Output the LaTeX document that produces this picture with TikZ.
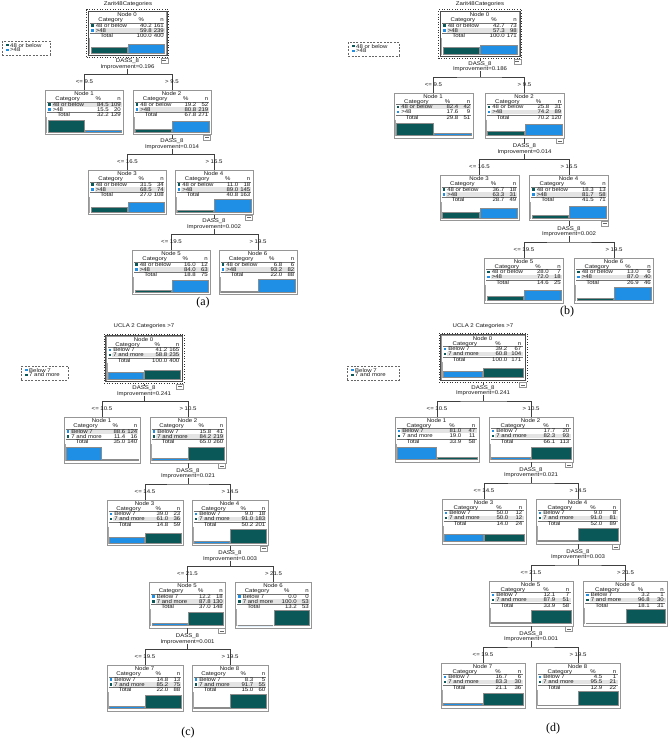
\documentclass[tikz,border=0pt]{standalone}
\usepackage{fontspec}
\usetikzlibrary{positioning, fit}
\newfontfamily\spssfont[FakeStretch=1.12]{Liberation Sans}
\newfontfamily\capfont{Liberation Serif}
\definecolor{spssteal}{RGB}{10,88,88}
\definecolor{spssblue}{RGB}{30,143,228}
\definecolor{boxgray}{RGB}{150,150,150}
\definecolor{rowgray}{RGB}{228,228,228}

% one tree node: name, position (top centre), number, p1, n1, p2, n2, total %, total n
\newcommand{\treenode}[9]{%
  \node[nodebox, minimum width=\nodeW pt, minimum height=\nodeH pt] (#1) at (#2) {};
  \begin{scope}[shift={(#1.north west)}]
    \ifdim #4pt>#6pt
      \fill[rowgray] (6.5,12.3) rectangle ({\nodeW-1.5},16.7);
    \else
      \fill[rowgray] (6.5,17.3) rectangle ({\nodeW-1.5},21.7);
    \fi
    \node[txt] (#1-hd) at ({\nodeW/2},4) {Node #3};
    \node[txt] (#1-cat) at ({0.29*\nodeW},9) {Category};
    \node[txt, anchor=east] (#1-pc) at ({0.72*\nodeW},9) {\%};
    \node[txt, anchor=east] (#1-nc) at (\nX,9) {n};
    \draw[rule] (2,11.8) -- ({\nodeW-2},11.8);
    \fill[colA] (3,13.2) rectangle (5.8,15.8);
    \node[txt, anchor=west] (#1-c1) at (7.5,14.5) {\catA};
    \node[txt, anchor=east] (#1-p1) at (\pctX,14.5) {#4};
    \node[txt, anchor=east] (#1-n1) at (\nX,14.5) {#5};
    \fill[colB] (3,18.2) rectangle (5.8,20.8);
    \node[txt, anchor=west] (#1-c2) at (7.5,19.5) {\catB};
    \node[txt, anchor=east] (#1-p2) at (\pctX,19.5) {#6};
    \node[txt, anchor=east] (#1-n2) at (\nX,19.5) {#7};
    \draw[rule] (2,22.2) -- ({\nodeW-2},22.2);
    \node[txt, anchor=west] (#1-tl) at (12,24.7) {Total};
    \node[txt, anchor=east] (#1-pt) at (\pctX,24.7) {#8};
    \node[txt, anchor=east] (#1-nt) at (\nX,24.7) {#9};
    \pgfmathsetmacro\barhA{#4*(\nodeH-30)/100}
    \pgfmathsetmacro\barhB{#6*(\nodeH-30)/100}
    \draw[axisln] (1.6,27) -- (1.6,{\nodeH-1.5});
    \filldraw[bar, fill=colA] (2.6,{\nodeH-2}) rectangle ({\nodeW/2},{\nodeH-2-\barhA});
    \filldraw[bar, fill=colB] ({\nodeW/2+0.8},{\nodeH-2}) rectangle ({\nodeW-1.8},{\nodeH-2-\barhB});
  \end{scope}}

% selected root
\newcommand{\selnode}[1]{%
  \node[draw=black!70, line width=0.9pt, inner sep=0pt, fit=(#1)] (#1i) {};
  \node[selbox, fit=(#1)] (#1s) {};}

% split: parent, name, improvement, left child, right child, left rule, right rule
\newcommand{\splitnode}[7]{%
  \coordinate[yshift=15.5pt] (#2j) at (#1.south |- #4.north);
  \node[txt] (#2d) at ([yshift=13.5pt]#2j) {DASS\_8};
  \node[txt] (#2i) at ([yshift=8pt]#2j) {Improvement=#3};
  \node[minusbox, anchor=north east] (#2m) at ([xshift=-0.5pt]#1.south east) {};
  \draw[edge] (#1.south) -- (#2d.north);
  \draw[edge] (#2i.south) -- (#2j);
  \draw[edge] (#4.north) |- (#2j) -| (#5.north);
  \node[txt] (#2l) at ([yshift=8pt]#4.north) {#6};
  \node[txt] (#2r) at ([yshift=8pt]#5.north) {#7};}

% legend: name, top left, width
\newcommand{\legendbox}[3]{%
  \node[legendframe, minimum width=#3pt, anchor=north west] (#1) at (#2) {};
  \begin{scope}[shift={(#1.north west)}]
    \fill[colA] (4,3) rectangle (6.6,5.4);
    \node[txt, anchor=west] (#1-a) at (8,4.2) {\catA};
    \fill[colB] (4,7.8) rectangle (6.6,10.2);
    \node[txt, anchor=west] (#1-b) at (8,9) {\catB};
  \end{scope}}

\begin{document}
\begin{tikzpicture}[x=1pt, y=-1pt,
    txt/.style={font=\spssfont\fontsize{5.4}{5.5}\selectfont, text=black!90,
                inner sep=0pt, text height=3.8pt, text depth=0pt},
    nodebox/.style={rectangle, draw=boxgray, line width=0.9pt, fill=white,
                    inner sep=0pt, anchor=north},
    selbox/.style={draw=black!80, dotted, line width=0.6pt, inner sep=1.4pt},
    rule/.style={draw=black!55, line width=0.35pt},
    axisln/.style={draw=gray!70, line width=0.6pt},
    bar/.style={draw=black!45, line width=0.3pt},
    minusbox/.style={rectangle, draw=boxgray, fill=white, line width=0.5pt,
                     minimum width=7pt, minimum height=5pt, inner sep=0pt,
                     path picture={\draw[black!60, line width=0.4pt]
                       ([xshift=1.5pt]path picture bounding box.west) --
                       ([xshift=-1.5pt]path picture bounding box.east);}},
    edge/.style={draw=black!75, line width=0.5pt},
    legendframe/.style={rectangle, draw=black!60, dash pattern=on 2pt off 1.4pt,
                        line width=0.5pt, minimum height=13.5pt, inner sep=0pt},
    caption/.style={font=\capfont\fontsize{12}{12}\selectfont, inner sep=0pt}
]
\path[fill=white, use as bounding box] (0,0) rectangle (669,739);

%% (a)
\def\nodeW{78}\def\nodeH{44}\def\pctX{64}\def\nX{76}
\colorlet{colA}{spssteal}\colorlet{colB}{spssblue}
\def\catA{48 or below}\def\catB{>48}
\node[txt] (ta) at (128,3.5) {Zarit48Categories};
\legendbox{lga}{2,41}{48}
\treenode{a0}{127.5,11}{0}{40.2}{161}{59.8}{239}{100.0}{400}
\treenode{a1}{84.5,90}{1}{84.5}{109}{15.5}{20}{32.2}{129}
\treenode{a2}{172,90}{2}{19.2}{52}{80.8}{219}{67.8}{271}
\treenode{a3}{127.5,170}{3}{31.5}{34}{68.5}{74}{27.0}{108}
\treenode{a4}{214,170}{4}{11.0}{18}{89.0}{145}{40.8}{163}
\treenode{a5}{171.5,250}{5}{16.0}{12}{84.0}{63}{18.8}{75}
\treenode{a6}{258,250}{6}{6.8}{6}{93.2}{82}{22.0}{88}
\selnode{a0}
\splitnode{a0s}{sa0}{0.196}{a1}{a2}{<= 9.5}{> 9.5}
\splitnode{a2}{sa2}{0.014}{a3}{a4}{<= 16.5}{> 16.5}
\splitnode{a4}{sa4}{0.002}{a5}{a6}{<= 19.5}{> 19.5}
\node[caption] (capa) at (203,303) {(a)};

%% (b)
\def\nodeW{79}\def\nodeH{45}\def\pctX{65}\def\nX{77}
\node[txt] (tb) at (480,3.5) {Zarit48Categories};
\legendbox{lgb}{348,42}{51}
\treenode{b0}{480,11}{0}{42.7}{73}{57.3}{98}{100.0}{171}
\treenode{b1}{433.5,92.5}{1}{82.4}{42}{17.6}{9}{29.8}{51}
\treenode{b2}{524.5,92.5}{2}{25.8}{31}{74.2}{89}{70.2}{120}
\treenode{b3}{479.5,175}{3}{36.7}{18}{63.3}{31}{28.7}{49}
\treenode{b4}{569,175}{4}{18.3}{13}{81.7}{58}{41.5}{71}
\treenode{b5}{524,257.5}{5}{28.0}{7}{72.0}{18}{14.6}{25}
\treenode{b6}{614,257.5}{6}{13.0}{6}{87.0}{40}{26.9}{46}
\selnode{b0}
\splitnode{b0s}{sb0}{0.186}{b1}{b2}{<= 9.5}{> 9.5}
\splitnode{b2}{sb2}{0.014}{b3}{b4}{<= 16.5}{> 16.5}
\splitnode{b4}{sb4}{0.002}{b5}{b6}{<= 19.5}{> 19.5}
\node[caption] (capb) at (567,312) {(b)};

%% (c)
\def\nodeW{76}\def\nodeH{45.5}\def\pctX{62}\def\nX{74}
\colorlet{colA}{spssblue}\colorlet{colB}{spssteal}
\def\catA{Below 7}\def\catB{7 and more}
\node[txt] (tc) at (144,326) {UCLA 2 Categories >7};
\legendbox{lgc}{21,366}{47}
\treenode{c0}{144,335.5}{0}{41.2}{165}{58.8}{235}{100.0}{400}
\treenode{c1}{102,417}{1}{88.6}{124}{11.4}{16}{35.0}{140}
\treenode{c2}{188,417}{2}{15.8}{41}{84.2}{219}{65.0}{260}
\treenode{c3}{145,499.5}{3}{39.0}{23}{61.0}{36}{14.8}{59}
\treenode{c4}{230,499.5}{4}{9.0}{18}{91.0}{183}{50.2}{201}
\treenode{c5}{187.5,582}{5}{12.2}{18}{87.8}{130}{37.0}{148}
\treenode{c6}{273.5,582}{6}{0.0}{0}{100.0}{53}{13.2}{53}
\treenode{c7}{145,665}{7}{14.8}{13}{85.2}{75}{22.0}{88}
\treenode{c8}{230,665}{8}{8.3}{5}{91.7}{55}{15.0}{60}
\selnode{c0}
\splitnode{c0s}{sc0}{0.241}{c1}{c2}{<= 10.5}{> 10.5}
\splitnode{c2}{sc2}{0.021}{c3}{c4}{<= 14.5}{> 14.5}
\splitnode{c4}{sc4}{0.003}{c5}{c6}{<= 21.5}{> 21.5}
\splitnode{c5}{sc5}{0.001}{c7}{c8}{<= 19.5}{> 19.5}
\node[caption] (capc) at (188,733) {(c)};

%% (d)
\def\nodeW{84}\def\nodeH{45}\def\pctX{67}\def\nX{81}
\node[txt] (td) at (483,326) {UCLA 2 Categories >7};
\legendbox{lgd}{347,366}{52}
\treenode{d0}{483,334.5}{0}{39.2}{67}{60.8}{104}{100.0}{171}
\treenode{d1}{437,416.5}{1}{81.0}{47}{19.0}{11}{33.9}{58}
\treenode{d2}{531,416.5}{2}{17.7}{20}{82.3}{93}{66.1}{113}
\treenode{d3}{484,498.5}{3}{50.0}{12}{50.0}{12}{14.0}{24}
\treenode{d4}{578,498.5}{4}{9.0}{8}{91.0}{81}{52.0}{89}
\treenode{d5}{531,580.5}{5}{12.1}{7}{87.9}{51}{33.9}{58}
\treenode{d6}{625.5,580.5}{6}{3.2}{1}{96.8}{30}{18.1}{31}
\treenode{d7}{483,662.5}{7}{16.7}{6}{83.3}{30}{21.1}{36}
\treenode{d8}{578,662.5}{8}{4.5}{1}{95.5}{21}{12.9}{22}
\selnode{d0}
\splitnode{d0s}{sd0}{0.241}{d1}{d2}{<= 10.5}{> 10.5}
\splitnode{d2}{sd2}{0.021}{d3}{d4}{<= 14.5}{> 14.5}
\splitnode{d4}{sd4}{0.003}{d5}{d6}{<= 21.5}{> 21.5}
\splitnode{d5}{sd5}{0.001}{d7}{d8}{<= 19.5}{> 19.5}
\node[caption] (capd) at (553,729) {(d)};
\end{tikzpicture}
\end{document}
